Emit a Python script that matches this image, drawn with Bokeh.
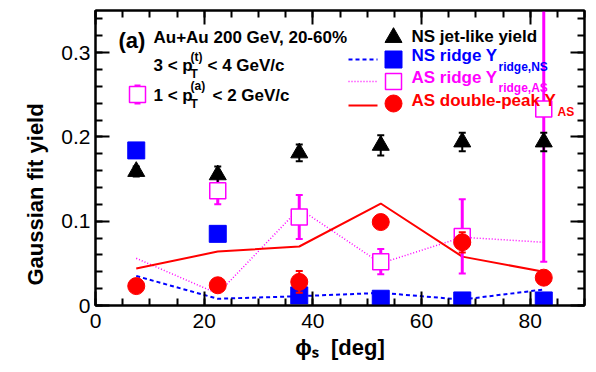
import numpy as np
from bokeh.plotting import figure
from bokeh.models import Range1d, LinearAxis, FixedTicker, Label, Title
from bokeh.embed import file_html
from bokeh.resources import INLINE

# ---------------- data ----------------
phi_s = [7.5, 22.5, 37.5, 52.5, 67.5, 82.5]
ns_jet = [0.159, 0.155, 0.181, 0.190, 0.194, 0.194]
ns_jet_err = [0.006, 0.010, 0.010, 0.012, 0.011, 0.011]
ns_ridge = [0.184, 0.085, 0.012, 0.008, 0.006, 0.006]
ns_ridge_err = [0.004, 0.004, 0.004, 0.003, 0.003, 0.003]
ns_ridge_fit = [0.035, 0.008, 0.011, 0.015, 0.007, 0.019]
as_ridge_phi = [22.5, 37.5, 52.5, 67.5, 82.5]
as_ridge = [0.136, 0.105, 0.052, 0.082, 0.233]
as_ridge_err = [0.016, 0.026, 0.015, 0.044, 0.181]
as_ridge_fit = [0.056, 0.014, 0.115, 0.050, 0.081, 0.075]
as_dp = [0.023, 0.024, 0.028, 0.099, 0.075, 0.033]
as_dp_err = [0.004, 0.004, 0.013, 0.005, 0.012, 0.004]
as_dp_fit = [0.044, 0.064, 0.070, 0.121, 0.058, 0.040]

x_ticks = [0, 20, 40, 60, 80]
y_ticks = [0, 0.1, 0.2, 0.3]
y_tick_labels = ["0", "0.1", "0.2", "0.3"]

X_MAX, Y_MAX = 90, 0.35

# ---------------- layout helpers (page px -> data) ----------------
FX0, FX1, FY0, FY1 = 95, 584, 305, 10
def px2x(px):
    return (px - FX0) / (FX1 - FX0) * X_MAX
def px2y(py):
    return (FY0 - py) / (FY0 - FY1) * Y_MAX

FONT = "Liberation Sans"
BLUE, MAG, RED = "#0000ff", "#ff00ff", "#ff0000"

p = figure(width=596, height=372, x_range=Range1d(0, X_MAX), y_range=Range1d(0, Y_MAX),
           output_backend="svg", toolbar_location=None,
           min_border_left=FX0, min_border_right=596 - FX1, min_border_top=FY1,
           min_border_bottom=372 - FY0)
p.xgrid.visible = False
p.ygrid.visible = False
p.outline_line_color = "black"
p.outline_line_width = 2
p.background_fill_color = "white"
p.border_fill_color = "white"

xt = FixedTicker(ticks=x_ticks, minor_ticks=list(np.arange(0, 91, 5)))
yt = FixedTicker(ticks=y_ticks, minor_ticks=list(np.round(np.arange(0, 0.351, 0.02), 3)))

def style_axis(ax, show_labels=True):
    ax.axis_line_width = 2
    ax.axis_line_color = "black"
    ax.major_tick_in = 14
    ax.major_tick_out = 0
    ax.minor_tick_in = 7
    ax.minor_tick_out = 0
    ax.major_tick_line_width = 2
    ax.minor_tick_line_width = 2
    ax.major_label_text_font = FONT
    ax.major_label_text_font_size = "21px"
    ax.major_label_text_color = "black"
    if not show_labels:
        ax.major_label_text_font_size = "1px"
        ax.major_label_text_color = None
        ax.major_label_standoff = 0

p.xaxis.ticker = xt
p.yaxis.ticker = yt
p.yaxis.major_label_overrides = {t: s for t, s in zip(y_ticks, y_tick_labels)}
style_axis(p.xaxis[0])
style_axis(p.yaxis[0])
p.xaxis.major_label_standoff = 8
p.yaxis.major_label_standoff = 5

# x-axis title
p.xaxis.axis_label = "\u03d5\u209b\u00a0\u00a0[deg]"
p.xaxis.axis_label_text_font = FONT
p.xaxis.axis_label_text_font_style = "bold"
p.xaxis.axis_label_text_font_size = "22px"
p.xaxis.axis_label_text_color = "black"
p.xaxis.axis_label_standoff = 4

top = LinearAxis(ticker=xt)
right = LinearAxis(ticker=yt)
style_axis(top, False)
style_axis(right, False)
p.add_layout(top, "above")
p.add_layout(right, "right")

# y-axis title (as a side title so it can be shifted like the original)
p.add_layout(Title(text="Gaussian fit yield", align="left", offset=20,
                   text_font=FONT, text_font_style="bold", text_font_size="22px",
                   text_color="black", standoff=22), "left")

# ---------------- fit lines ----------------
p.line(phi_s, ns_ridge_fit, line_color=BLUE, line_width=2, line_dash="4 3")
p.line(phi_s, as_ridge_fit, line_color=MAG, line_width=1.5, line_dash="1 2")
p.line(phi_s, as_dp_fit, line_color=RED, line_width=2)

# ---------------- error bars ----------------
def errbars(x, y, e, color, width=2):
    lo = [a - b for a, b in zip(y, e)]
    hi = [a + b for a, b in zip(y, e)]
    p.segment(x0=x, y0=lo, x1=x, y1=hi, line_color=color, line_width=width)
    p.scatter(x + x, lo + hi, marker="dash", size=7, line_color=color, line_width=2)

errbars(as_ridge_phi, as_ridge, as_ridge_err, MAG, 3)
errbars(phi_s, ns_ridge, ns_ridge_err, BLUE)
errbars(phi_s, ns_jet, ns_jet_err, "black")

# ---------------- markers ----------------
p.scatter(as_ridge_phi, as_ridge, marker="square", size=16, line_color=MAG,
          fill_color="white", line_width=1.5)
p.scatter(phi_s, ns_ridge, marker="square", size=17, line_color=BLUE, fill_color=BLUE)
errbars(phi_s, as_dp, as_dp_err, RED)
p.scatter(phi_s, as_dp, marker="circle", size=17, line_color=RED, fill_color=RED)
p.scatter(phi_s, ns_jet, marker="triangle", size=17, line_color="black", fill_color="black")

# ---------------- legend (drawn by hand) ----------------
LX = px2x(393)
L0, L1 = px2x(348), px2x(377)
p.scatter([LX], [px2y(37)], marker="triangle", size=17, line_color="black", fill_color="black")
p.line([L0, L1], [px2y(59)] * 2, line_color=BLUE, line_width=2, line_dash="4 3")
p.scatter([LX], [px2y(59)], marker="square", size=17, line_color=BLUE, fill_color=BLUE)
p.line([L0, L1], [px2y(81)] * 2, line_color=MAG, line_width=1.5, line_dash="1 2")
p.scatter([LX], [px2y(81)], marker="square", size=16, line_color=MAG, fill_color="white", line_width=1.5)
p.line([L0, L1], [px2y(105)] * 2, line_color=RED, line_width=2)
p.scatter([LX], [px2y(103)], marker="circle", size=17, line_color=RED, fill_color=RED)

# marker before the associated-pT line
MX, MY = px2x(137), px2y(94)
p.segment(x0=[MX], y0=[px2y(85)], x1=[MX], y1=[px2y(103)], line_color=MAG, line_width=2)
p.scatter([MX, MX], [px2y(85), px2y(103)], marker="dash", size=6, line_color=MAG, line_width=2)
p.scatter([MX], [MY], marker="square", size=16, line_color=MAG, fill_color="white", line_width=1.5)

def label(px, py, text, size="17px", color="black", bold=True, angle=0, align="left"):
    p.add_layout(Label(x=px2x(px), y=px2y(py), text=text, text_font=FONT,
                       text_font_size=size, text_color=color,
                       text_font_style="bold" if bold else "normal",
                       text_baseline="middle", text_align=align, angle=angle))

label(118, 40, "(a)", size="22px")
label(153, 37, "Au+Au 200 GeV, 20-60%")
label(153, 65, "3 < p")
label(190, 56, "(t)", size="12px")
label(190, 73, "T", size="12px")
label(207, 65, "< 4 GeV/c")
label(153, 95, "1 < p")
label(190, 85, "(a)", size="12px")
label(190, 103, "T", size="12px")
label(212, 95, "< 2 GeV/c")

label(411, 36, "NS jet-like yield")
label(411, 55, "NS ridge Y", color=BLUE)
label(498, 66, "ridge,NS", size="12px", color=BLUE)
label(411, 77, "AS ridge Y", color=MAG)
label(498, 87, "ridge,AS", size="12px", color=MAG)
label(411, 100, "AS double-peak Y", color=RED)
label(557, 111, "AS", size="12px", color=RED)

open("out.html", "w").write(file_html(p, INLINE))
